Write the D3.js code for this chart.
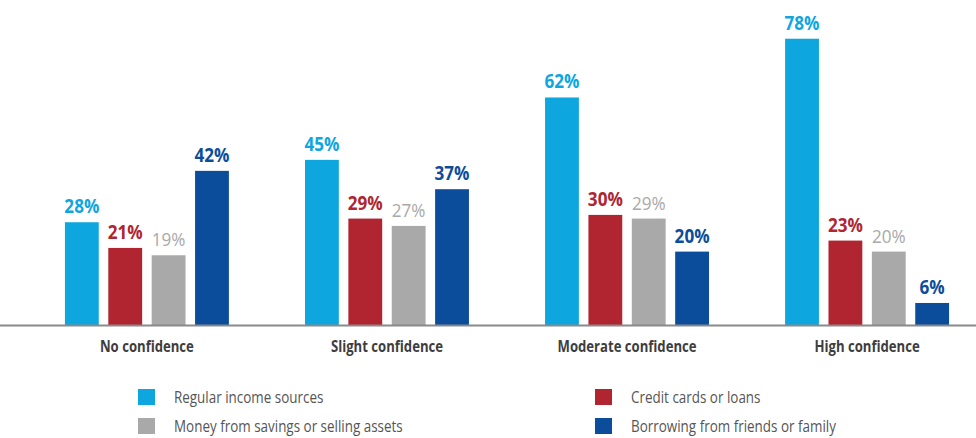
<!DOCTYPE html>
<html>
<head>
<meta charset="utf-8">
<script src="https://cdn.jsdelivr.net/npm/d3@7"></script>
<style>
  body { margin: 0; background: #fff; }
  svg { display: block; }
</style>
</head>
<body>
<div id="chart"></div>
<script>
(function() {

    var w = 976;
    var h = 438;

    // data
    var categories = ["No confidence", "Slight confidence", "Moderate confidence", "High confidence"];
    var seriesNames = ["Regular income sources", "Credit cards or loans", "Money from savings or selling assets", "Borrowing from friends or family"];
    var regularIncome = [28, 45, 62, 78];
    var creditCards = [21, 29, 30, 23];
    var savings = [19, 27, 29, 20];
    var borrowing = [42, 37, 20, 6];

    var seriesValues = [regularIncome, creditCards, savings, borrowing];
    var colors = ["#0ea6de", "#b0252f", "#a9a9a9", "#0b4d9b"];
    var labelWeights = ["bold", "bold", "normal", "bold"];

    var baseY = 325;
    var fontFamily = "'Open Sans', sans-serif";

    var svg = d3.select("#chart")
        .append("svg")
        .attr("width", w)
        .attr("height", h);

    var x0 = d3.scaleBand()
        .domain(categories)
        .range([27, 987])
        .paddingInner(0.317)
        .paddingOuter(0.158);

    var x1 = d3.scaleBand()
        .domain(d3.range(seriesNames.length))
        .range([0, x0.bandwidth()])
        .paddingInner(0.22)
        .paddingOuter(0);

    var y = d3.scaleLinear()
        .domain([0, 80])
        .range([baseY, baseY - 80 * 3.67]);

    // flatten into rows for drawing
    var rows = [];
    categories.forEach(function(c, ci) {
        seriesValues.forEach(function(vals, si) {
            rows.push({ cat: c, s: si, v: vals[ci] });
        });
    });

    var g = svg.append("g");

    g.selectAll("rect.bar")
        .data(rows)
        .enter()
        .append("rect")
        .attr("class", "bar")
        .attr("x", function(d) { return x0(d.cat) + x1(d.s); })
        .attr("y", function(d) { return y(d.v); })
        .attr("width", x1.bandwidth())
        .attr("height", function(d) { return y(0) - y(d.v); })
        .attr("fill", function(d) { return colors[d.s]; });

    // value labels, squeezed a little to look like the condensed original face
    g.selectAll("text.val")
        .data(rows)
        .enter()
        .append("text")
        .attr("class", "val")
        .attr("transform", function(d) {
            var cx = x0(d.cat) + x1(d.s) + x1.bandwidth() / 2;
            return "translate(" + cx + "," + (y(d.v) - 9) + ") scale(0.9,1)";
        })
        .attr("text-anchor", "middle")
        .attr("font-family", fontFamily)
        .attr("font-size", 19)
        .attr("font-weight", function(d) { return labelWeights[d.s]; })
        .attr("fill", function(d) { return colors[d.s]; })
        .text(function(d) { return d.v + "%"; });

    // baseline spanning full width
    svg.append("line")
        .attr("x1", 0)
        .attr("x2", w)
        .attr("y1", baseY + 0.5)
        .attr("y2", baseY + 0.5)
        .attr("stroke", "#8a8a8a")
        .attr("stroke-width", 2);

    var xAxis = svg.append("g")
        .attr("transform", "translate(0," + baseY + ")")
        .call(d3.axisBottom(x0).tickSize(0).tickPadding(16));

    xAxis.select(".domain").remove();
    xAxis.selectAll("text")
        .attr("transform", "scale(0.82,1)")
        .attr("font-family", fontFamily)
        .attr("font-size", 16)
        .attr("font-weight", "bold")
        .attr("fill", "#3d3d3d");

    // legend, two columns
    var legendPos = [[138, 389], [595, 389], [138, 418], [595, 418]];

    var legend = svg.selectAll("g.legend")
        .data(seriesNames)
        .enter()
        .append("g")
        .attr("class", "legend")
        .attr("transform", function(d, i) { return "translate(" + legendPos[i][0] + "," + legendPos[i][1] + ")"; });

    legend.append("rect")
        .attr("width", 17)
        .attr("height", 16)
        .attr("fill", function(d, i) { return colors[i]; });

    legend.append("text")
        .attr("transform", "translate(36,14) scale(0.84,1)")
        .attr("font-family", fontFamily)
        .attr("font-size", 16)
        .attr("fill", "#555")
        .text(function(d) { return d; });

})();
</script>
</body>
</html>
